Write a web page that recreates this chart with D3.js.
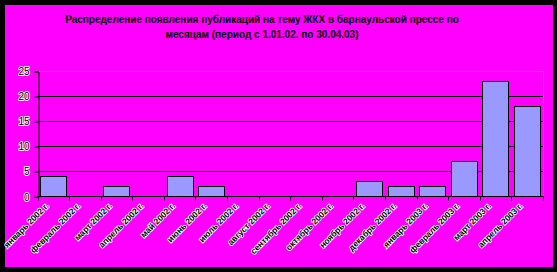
<!DOCTYPE html>
<html>
<head>
<meta charset="utf-8">
<script src="https://cdn.jsdelivr.net/npm/d3@7"></script>
<style>
  body { margin: 0; background: #000; }
  svg { display: block; }
  text { font-family: Arial, "Liberation Sans", sans-serif; }
</style>
</head>
<body>
<div id="chart"></div>
<script>
/** DATA */
const months = [
  "январь 2002 г.", "февраль 2002 г.", "март 2002 г.", "апрель 2002 г.",
  "май 2002 г.", "июнь 2002 г.", "июль 2002 г.", "август 2002 г.",
  "сентябрь 2002 г.", "октябрь 2002 г.", "ноябрь 2002 г.", "декабрь 2002 г.",
  "январь 2003 г.", "февраль 2003 г.", "март 2003 г.", "апрель 2003 г."
];
const counts = [4, 0, 2, 0, 4, 2, 0, 0, 0, 0, 3, 2, 2, 7, 23, 18];
const yTicks = [0, 5, 10, 15, 20, 25];
const titleLines = [
  "Распределение появления публикаций на тему ЖКХ в барнаульской прессе по",
  "месяцам (период с 1.01.02. по 30.04.03)"
];

/** CONSTANTS */
const width = 557, height = 272;
const plot = { left: 37.5, right: 543, top: 71, bottom: 196.3 };

const svg = d3.select("#chart").append("svg")
  .attr("width", width)
  .attr("height", height);

// black frame + magenta background
svg.append("rect").attr("width", width).attr("height", height).attr("fill", "#000");
svg.append("rect")
  .attr("x", 5).attr("y", 5)
  .attr("width", 548).attr("height", 262)
  .attr("fill", "#ff00ff");

// title
svg.append("g").selectAll("text")
  .data(titleLines)
  .join("text")
  .attr("x", 262)
  .attr("y", (d, i) => 22.5 + i * 15.5)
  .attr("text-anchor", "middle")
  .attr("font-size", 10)
  .attr("font-weight", "bold")
  .attr("fill", "#000")
  .text(d => d);

// SCALES
const xScale = d3.scaleBand()
  .domain(months)
  .range([plot.left, plot.right])
  .paddingInner(0.17)
  .paddingOuter(0.085);

const yScale = d3.scaleLinear()
  .domain([0, 25])
  .range([plot.bottom, plot.top]);

// gridlines
svg.append("g").selectAll("line")
  .data(yTicks.filter(d => d > 0))
  .join("line")
  .attr("x1", plot.left).attr("x2", plot.right)
  .attr("y1", d => Math.round(yScale(d)) + 0.5)
  .attr("y2", d => Math.round(yScale(d)) + 0.5)
  .attr("stroke", d => d === 25 ? "#808080" : "#000")
  .attr("stroke-width", 1);

// right border of plot area
svg.append("line")
  .attr("x1", plot.right + 0.5).attr("x2", plot.right + 0.5)
  .attr("y1", Math.round(plot.top) + 0.5).attr("y2", plot.bottom)
  .attr("stroke", "#808080");

// bars
svg.append("g").selectAll("rect")
  .data(counts.map((v, i) => ({ month: months[i], value: v })).filter(d => d.value > 0))
  .join("rect")
  .attr("x", d => Math.round(xScale(d.month)) + 0.5)
  .attr("y", d => Math.round(yScale(d.value)) + 0.5)
  .attr("width", Math.round(xScale.bandwidth()))
  .attr("height", d => Math.round(yScale(0)) - Math.round(yScale(d.value)))
  .attr("fill", "#9999ff")
  .attr("stroke", "#000")
  .attr("stroke-width", 1);

// y axis
const yAxis = d3.axisLeft(yScale).tickValues(yTicks).tickSize(4).tickPadding(5);
const yG = svg.append("g")
  .attr("transform", `translate(${Math.round(plot.left) + 0.5},0.5)`)
  .call(yAxis);
yG.select(".domain").attr("stroke", "#000");
yG.selectAll(".tick line").attr("stroke", "#000");
yG.selectAll(".tick text")
  .attr("font-size", 10)
  .attr("fill", "#000")
  .attr("stroke", "#fff")
  .attr("stroke-width", 1.6)
  .attr("paint-order", "stroke");

// x axis: line with ticks at category boundaries
const baseY = Math.round(yScale(0)) + 0.5;
svg.append("line")
  .attr("x1", plot.left).attr("x2", plot.right + 1)
  .attr("y1", baseY).attr("y2", baseY)
  .attr("stroke", "#000");

const step = (plot.right - plot.left) / months.length;
svg.append("g").selectAll("line")
  .data(d3.range(months.length + 1))
  .join("line")
  .attr("x1", i => Math.round(plot.left + i * step) + 0.5)
  .attr("x2", i => Math.round(plot.left + i * step) + 0.5)
  .attr("y1", baseY).attr("y2", baseY + 4)
  .attr("stroke", "#000");

// x labels rotated
svg.append("g").selectAll("text")
  .data(months)
  .join("text")
  .attr("transform", d => `translate(${xScale(d) + xScale.bandwidth() / 2 - 4},${baseY + 10}) rotate(-45)`)
  .attr("text-anchor", "end")
  .attr("font-size", 8.5)
  .attr("font-weight", "bold")
  .attr("fill", "#000")
  .attr("stroke", "#fff")
  .attr("stroke-width", 1.6)
  .attr("paint-order", "stroke")
  .text(d => d);
</script>
</body>
</html>
